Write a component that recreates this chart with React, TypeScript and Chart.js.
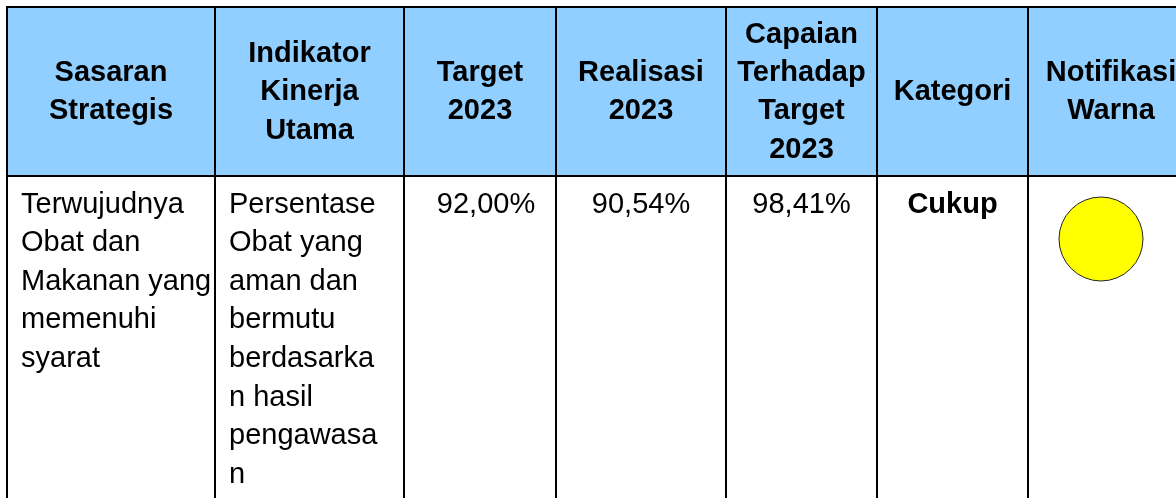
import React, { useEffect, useRef } from "react";
import { Chart, registerables } from "chart.js";

Chart.register(...registerables);

// ---- Data ----
const HEADERS: string[][] = [
  ["Sasaran", "Strategis"],
  ["Indikator", "Kinerja", "Utama"],
  ["Target", "2023"],
  ["Realisasi", "2023"],
  ["Capaian", "Terhadap", "Target", "2023"],
  ["Kategori"],
  ["Notifikasi", "Warna"],
];
const SASARAN_LINES = ["Terwujudnya", "Obat dan", "Makanan yang", "memenuhi", "syarat"];
const INDIKATOR_LINES = [
  "Persentase",
  "Obat yang",
  "aman dan",
  "bermutu",
  "berdasarka",
  "n hasil",
  "pengawasa",
  "n",
];
const TARGET_2023 = 92.0;
const REALISASI_2023 = 90.54;
const CAPAIAN_2023 = 98.41;
const KATEGORI = "Cukup";
const CATEGORY_COLORS: Record<string, string> = {
  Baik: "#00B050",
  Cukup: "#FFFF00",
  Kurang: "#FF0000",
};

// ---- Layout (table geometry in scale units) ----
const COL_EDGES = [7, 215, 404, 556, 726, 877, 1028, 1194];
const ROW_EDGES = [7, 176];
const X_MIN = 6;
const X_MAX = 1176;
const Y_MIN = 6;
const Y_MAX = 498;
const HEADER_LINE = 38.3;
const BODY_LINE = 38.6;
const BODY_FIRST_BASELINE = 36.5; // from top of body row
const CELL_PAD = 14;
const CIRCLE_INSET = { dx: 73, dy: 63, r: 42 };

const FONT = '"Liberation Sans", Arial, Helvetica, sans-serif';
const HEADER_BG = "#90CFFF";

const fmt = (v: number) => v.toFixed(2).replace(".", ",") + "%";

export default function App() {
  const ref = useRef<HTMLCanvasElement | null>(null);

  useEffect(() => {
    const canvas = ref.current;
    if (!canvas) return;

    const tablePlugin = {
      id: "tablePlugin",
      beforeDraw(chart: any) {
        const { ctx, scales } = chart;
        const x = scales.x;
        const y = scales.y;
        const l = x.getPixelForValue(COL_EDGES[0]);
        const r = x.getPixelForValue(X_MAX);
        const t = y.getPixelForValue(ROW_EDGES[0]);
        const b = y.getPixelForValue(ROW_EDGES[1]);
        ctx.save();
        ctx.fillStyle = HEADER_BG;
        ctx.fillRect(l, t, r - l, b - t);
        ctx.restore();
      },
      afterDraw(chart: any) {
        const { ctx, scales } = chart;
        const x = scales.x;
        const y = scales.y;
        ctx.save();
        ctx.fillStyle = "#000";
        ctx.textBaseline = "alphabetic";

        // Header
        ctx.font = `bold 29px ${FONT}`;
        ctx.textAlign = "center";
        const hMid = (y.getPixelForValue(ROW_EDGES[0]) + y.getPixelForValue(ROW_EDGES[1])) / 2 + 8.8;
        HEADERS.forEach((lines, c) => {
          const cx = (x.getPixelForValue(COL_EDGES[c]) + x.getPixelForValue(COL_EDGES[c + 1])) / 2;
          lines.forEach((ln, i) => {
            ctx.fillText(ln, cx, hMid + (i - (lines.length - 1) / 2) * HEADER_LINE);
          });
        });

        // Body
        const bTop = y.getPixelForValue(ROW_EDGES[1]) + BODY_FIRST_BASELINE;
        ctx.font = `29px ${FONT}`;
        ctx.textAlign = "left";
        SASARAN_LINES.forEach((ln, i) => {
          ctx.fillText(ln, x.getPixelForValue(COL_EDGES[0]) + CELL_PAD, bTop + i * BODY_LINE);
        });
        INDIKATOR_LINES.forEach((ln, i) => {
          ctx.fillText(ln, x.getPixelForValue(COL_EDGES[1]) + CELL_PAD, bTop + i * BODY_LINE);
        });
        ctx.textAlign = "center";
        const centerOf = (c: number) =>
          (x.getPixelForValue(COL_EDGES[c]) + x.getPixelForValue(COL_EDGES[c + 1])) / 2;
        ctx.fillText(fmt(TARGET_2023), centerOf(2) + 6, bTop);
        ctx.fillText(fmt(REALISASI_2023), centerOf(3), bTop);
        ctx.fillText(fmt(CAPAIAN_2023), centerOf(4), bTop);
        ctx.font = `bold 29px ${FONT}`;
        ctx.fillText(KATEGORI, centerOf(5), bTop);
        ctx.restore();
      },
    };

    const gridTicks = (edges: number[], max: number) => (scale: any) => {
      scale.ticks = edges.filter((v) => v <= max).map((v) => ({ value: v }));
    };

    const chart = new Chart(canvas, {
      type: "bubble",
      data: {
        datasets: [
          {
            label: "Notifikasi Warna",
            data: [
              {
                x: COL_EDGES[6] + CIRCLE_INSET.dx,
                y: ROW_EDGES[1] + CIRCLE_INSET.dy,
                r: CIRCLE_INSET.r,
              },
            ],
            backgroundColor: CATEGORY_COLORS[KATEGORI],
            borderColor: "#222222",
            borderWidth: 1,
            hoverRadius: 0,
            clip: false,
          } as any,
        ],
      },
      options: {
        animation: false,
        responsive: false,
        devicePixelRatio: 1,
        events: [],
        layout: { autoPadding: false, padding: { top: Y_MIN, left: X_MIN, right: 0, bottom: 0 } },
        plugins: {
          legend: { display: false },
          tooltip: { enabled: false },
          title: { display: false },
        },
        scales: {
          x: {
            type: "linear",
            min: X_MIN,
            max: X_MAX,
            afterBuildTicks: gridTicks(COL_EDGES, X_MAX),
            grid: { color: "#000000", lineWidth: 2, drawTicks: false, tickLength: 0 },
            border: { display: false },
            ticks: { display: false },
          },
          y: {
            type: "linear",
            min: Y_MIN,
            max: Y_MAX,
            reverse: true,
            afterBuildTicks: gridTicks(ROW_EDGES, Y_MAX),
            grid: { color: "#000000", lineWidth: 2, drawTicks: false, tickLength: 0 },
            border: { display: false },
            ticks: { display: false },
          },
        },
      } as any,
      plugins: [tablePlugin],
    });

    return () => chart.destroy();
  }, []);

  return (
    <div style={{ position: "fixed", left: 0, top: 0, width: 1176, height: 498, background: "#fff" }}>
      <canvas ref={ref} width={1176} height={498} style={{ display: "block" }} />
    </div>
  );
}
